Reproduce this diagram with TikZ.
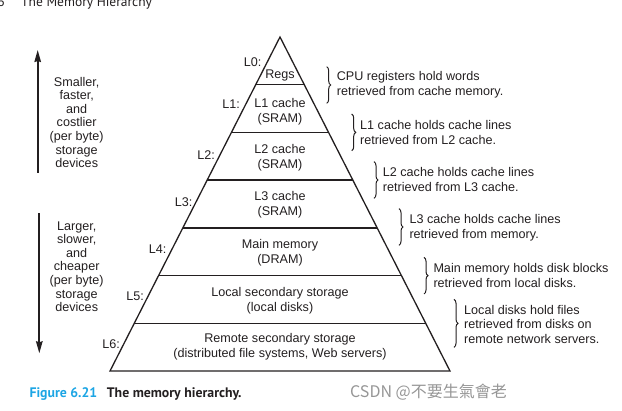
\documentclass[tikz,border=0pt]{standalone}
\usepackage{fontspec}
\setmainfont{Liberation Sans}
\newfontfamily\capfont{PT Sans}
\newfontfamily\cjkfont{Noto Sans CJK TC}
\usetikzlibrary{decorations.pathreplacing,arrows.meta,calc}

\definecolor{ink}{RGB}{35,31,32}
\definecolor{figblue}{RGB}{28,165,228}
\definecolor{markgray}{RGB}{150,150,150}

\begin{document}
\begin{tikzpicture}[x=1pt,y=-1pt,
  txt/.style={font=\fontsize{12.6}{15}\selectfont, text=ink, inner sep=0pt},
  lvl/.style={txt, align=center},
  lvllabel/.style={txt, anchor=east},
  note/.style={txt, align=left, anchor=west},
  side/.style={font=\fontsize{12.6}{13.6}\selectfont, text=ink, inner sep=0pt, align=center},
  bracemark/.style={draw=ink, line width=1pt, decorate, decoration={brace, amplitude=4pt}},
  edgeline/.style={draw=ink, line width=1.3pt},
  scalearrow/.style={draw=ink, line width=1.7pt, -{Stealth[length=12pt,width=6.5pt,inset=1pt]}}
]
\useasboundingbox (0,0) rectangle (622,411);
\clip (0,0) rectangle (622,411);

% running head, cut by the top edge
\node[font=\capfont\fontsize{13.5}{15}\selectfont, text=ink, inner sep=0pt, anchor=base east] (pagenum) at (5,6.5) {6};
\node[font=\capfont\fontsize{13.5}{15}\selectfont, text=ink, inner sep=0pt, anchor=base west] (runhead) at (21,6.5) {The Memory Hierarchy};

% pyramid outline
\coordinate (apex) at (280,37);
\coordinate (bl) at (110,371);
\coordinate (br) at (450,371);
\draw[edgeline, line join=miter] (apex) -- (bl) -- (br) -- cycle;

% level dividers
\foreach \i in {1,...,6} {
  \coordinate (dl\i) at ($(apex)!\i/7!(bl)$);
  \coordinate (dr\i) at ($(apex)!\i/7!(br)$);
  \draw[edgeline] (dl\i) -- (dr\i);
}

% level contents
\node[lvl] (regs) at (280,75.7) {Regs};
\node[lvl] (lone) at (280,111.7) {L1 cache\\(SRAM)};
\node[lvl] (ltwo) at (280,157.5) {L2 cache\\(SRAM)};
\node[lvl] (lthree) at (280,205) {L3 cache\\(SRAM)};
\node[lvl] (main) at (280,253) {Main memory\\(DRAM)};
\node[lvl] (local) at (280,301) {Local secondary storage\\(local disks)};
\node[lvl] (remote) at (280,346.7) {Remote secondary storage\\(distributed file systems, Web servers)};

% level names
\node[lvllabel] (nzero) at (261.7,61.7) {L0:};
\node[lvllabel] (none) at (240,104) {L1:};
\node[lvllabel] (ntwo) at (215,155) {L2:};
\node[lvllabel] (nthree) at (192.7,201.7) {L3:};
\node[lvllabel] (nfour) at (166.7,249) {L4:};
\node[lvllabel] (nfive) at (144,296) {L5:};
\node[lvllabel] (nsix) at (120,344) {L6:};

% braces and notes
\draw[bracemark] (326.7,66.7) -- (326.7,103.3);
\node[note] (nota) at (336.7,84.8) {CPU registers hold words\\retrieved from cache memory.};
\draw[bracemark] (351.7,114) -- (351.7,150.7);
\node[note] (notb) at (360,132.9) {L1 cache holds cache lines\\retrieved from L2 cache.};
\draw[bracemark] (374,161.7) -- (374,198.3);
\node[note] (notc) at (382.7,179.7) {L2 cache holds cache lines\\retrieved from L3 cache.};
\draw[bracemark] (399,208.7) -- (399,245.3);
\node[note] (notd) at (409.3,227.5) {L3 cache holds cache lines\\retrieved from memory.};
\draw[bracemark] (424,257.3) -- (424,294);
\node[note] (note) at (433.3,275.9) {Main memory holds disk blocks\\retrieved from local disks.};
\draw[bracemark] (454,299.3) -- (454,347.3);
\node[note, font=\fontsize{12.6}{14.5}\selectfont] (notf) at (464,324.3) {Local disks hold files\\retrieved from disks on\\remote network servers.};

% scale arrows and their texts
\coordinate (upfoot) at (37.7,172.7);
\coordinate (uptip) at (37.7,50);
\draw[scalearrow] (upfoot) -- (uptip);
\coordinate (downfoot) at (39.3,213.3);
\coordinate (downtip) at (39.3,353.3);
\draw[scalearrow] (downfoot) -- (downtip);
\node[side] (small) at (76.7,122.5) {Smaller,\\faster,\\and\\costlier\\(per byte)\\storage\\devices};
\node[side] (large) at (76.7,266.7) {Larger,\\slower,\\and\\cheaper\\(per byte)\\storage\\devices};

% caption
\node[font=\capfont\bfseries\fontsize{13.8}{15}\selectfont, text=figblue, inner sep=0pt, anchor=base west] (fignum) at (29.3,398) {Figure 6.21};
\node[font=\capfont\bfseries\fontsize{13.8}{15}\selectfont, text=ink, inner sep=0pt, anchor=base west] (figtitle) at (106.7,398) {The memory hierarchy.};

% watermark
\node[font=\cjkfont\fontsize{16}{18}\selectfont, text=markgray, inner sep=0pt, anchor=west] (mark) at (350,391.7) {CSDN @不要生氣會老};
\end{tikzpicture}
\end{document}
